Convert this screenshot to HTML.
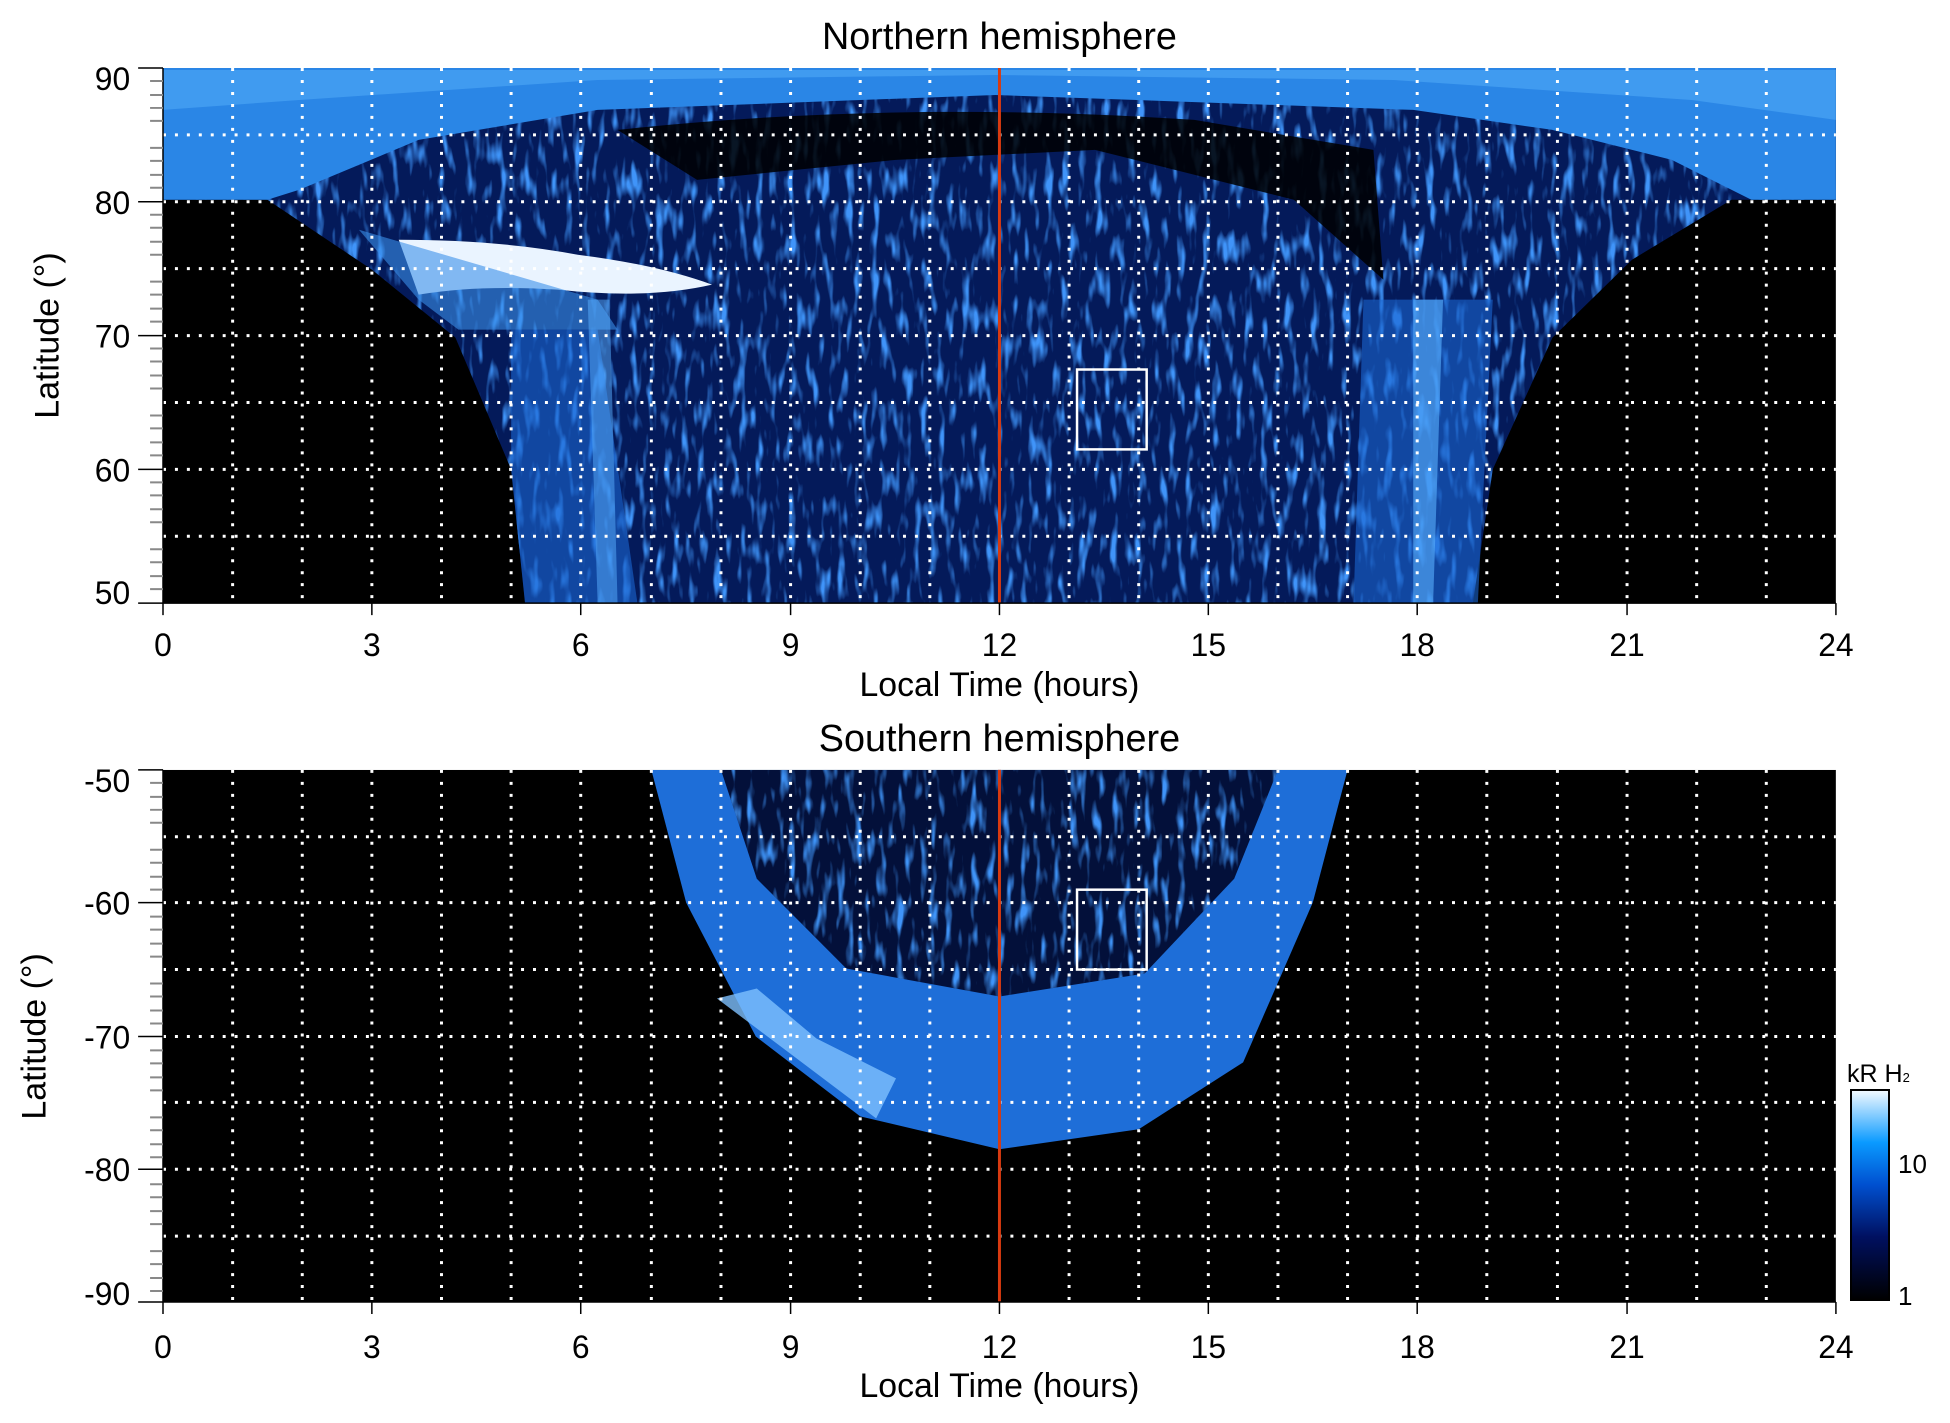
<!DOCTYPE html>
<html><head><style>body{margin:0;background:#fff}svg{display:block}text{font-family:"Liberation Sans",sans-serif;fill:#000}</style></head><body>
<svg width="1950" height="1423" viewBox="0 0 1950 1423" xmlns="http://www.w3.org/2000/svg">
<defs>
<linearGradient id="cb" x1="0" y1="1" x2="0" y2="0"><stop offset="0" stop-color="#000"/><stop offset="0.3" stop-color="#001060"/><stop offset="0.55" stop-color="#0050d0"/><stop offset="0.75" stop-color="#0a9aff"/><stop offset="1" stop-color="#f4faff"/></linearGradient>
<filter id="nz" x="0" y="0" width="1" height="1"><feTurbulence type="fractalNoise" baseFrequency="0.12 0.03" numOctaves="2" seed="3"/><feColorMatrix values="0 0 0 0 0.05  0 0 0 0 0.3  0 0 0 0 0.95  0 0 0 4 -2.1"/><feComposite in2="SourceGraphic" operator="in"/></filter>
<clipPath id="c1"><rect x="163" y="68" width="1682" height="536"/></clipPath>
<clipPath id="c2"><rect x="163" y="771" width="1682" height="533"/></clipPath>
</defs>
<g transform="translate(163,68) scale(0.9946,0.9984) translate(-163,-68)">
<g clip-path="url(#c1)">
<rect x="163" y="68" width="1682" height="536" fill="#000"/>
<path d="M163,68 H1845 V200 L1740,200 L1640,260 L1560,338 L1500,470 L1480,604 H527 L513,470 L457,338 L373,270 L268,200 H163 Z" fill="#041a5a"/>
<path d="M163,68 H1845 V200 L1740,200 L1640,260 L1560,338 L1500,470 L1480,604 H527 L513,470 L457,338 L373,270 L268,200 H163 Z" fill="#fff" filter="url(#nz)"/>
<path d="M163,68 H1845 V200 L1760,200 L1680,160 L1560,130 L1420,110 L1000,95 L600,110 L420,140 L300,190 L268,200 H163Z" fill="#2a86e6"/>
<path d="M163,70 H1845 V120 L1700,100 L1400,80 L1000,75 L600,80 L300,100 L163,110Z" fill="#4aa4f4" opacity="0.7"/>
<path d="M620,130 Q900,100 1200,120 L1380,150 L1390,280 L1300,200 L1100,150 L900,160 L700,180Z" fill="#000" opacity="0.85"/>
<path d="M400,240 Q500,240 580,255 Q660,265 715,285 Q650,300 560,290 Q480,285 420,295Z" fill="#eaf4ff"/>
<path d="M360,230 L420,300 L460,330 L620,330 L600,300Z" fill="#3a90ea" opacity="0.6"/>
<path d="M513,330 L600,330 L640,604 L527,604 L513,470Z" fill="#1a66d0" opacity="0.6"/>
<path d="M1370,300 L1500,300 L1485,604 L1360,604Z" fill="#1a66d0" opacity="0.6"/>
<path d="M1420,300 L1450,300 L1440,604 L1420,604Z" fill="#5ab0ff" opacity="0.6"/>
<path d="M590,300 L612,300 L620,604 L600,604Z" fill="#5ab0ff" opacity="0.5"/>
</g>
<g clip-path="url(#c2)">
<rect x="163" y="771" width="1682" height="533" fill="#000"/>
<path d="M654,771 L689,904 L759,1038 L864,1118 L1004,1151 L1144,1131 L1249,1064 L1319,904 L1354,771Z" fill="#1e6ed8"/>
<path d="M720,1000 L800,1060 L880,1120 L900,1080 L820,1040 L760,990Z" fill="#7ec0ff" opacity="0.8"/>
<path d="M724,771 L760,880 L850,970 L1004,998 L1150,975 L1240,880 L1284,771Z" fill="#03103a"/>
<path d="M724,771 L760,880 L850,970 L1004,998 L1150,975 L1240,880 L1284,771Z" fill="#fff" filter="url(#nz)"/>
</g>
<g stroke="#fff" stroke-width="3" stroke-dasharray="3,9">
<g id="gv">
<line x1="233" y1="68" x2="233" y2="604"/><line x1="303" y1="68" x2="303" y2="604"/><line x1="373" y1="68" x2="373" y2="604"/><line x1="443" y1="68" x2="443" y2="604"/><line x1="513" y1="68" x2="513" y2="604"/><line x1="583" y1="68" x2="583" y2="604"/><line x1="654" y1="68" x2="654" y2="604"/><line x1="724" y1="68" x2="724" y2="604"/><line x1="794" y1="68" x2="794" y2="604"/><line x1="864" y1="68" x2="864" y2="604"/><line x1="934" y1="68" x2="934" y2="604"/><line x1="1074" y1="68" x2="1074" y2="604"/><line x1="1144" y1="68" x2="1144" y2="604"/><line x1="1214" y1="68" x2="1214" y2="604"/><line x1="1284" y1="68" x2="1284" y2="604"/><line x1="1354" y1="68" x2="1354" y2="604"/><line x1="1424" y1="68" x2="1424" y2="604"/><line x1="1494" y1="68" x2="1494" y2="604"/><line x1="1565" y1="68" x2="1565" y2="604"/><line x1="1635" y1="68" x2="1635" y2="604"/><line x1="1705" y1="68" x2="1705" y2="604"/><line x1="1775" y1="68" x2="1775" y2="604"/>
</g>
<use href="#gv" transform="translate(0,703)"/>
<line x1="163" y1="135" x2="1845" y2="135"/><line x1="163" y1="202" x2="1845" y2="202"/><line x1="163" y1="269" x2="1845" y2="269"/><line x1="163" y1="336" x2="1845" y2="336"/><line x1="163" y1="403" x2="1845" y2="403"/><line x1="163" y1="470" x2="1845" y2="470"/><line x1="163" y1="537" x2="1845" y2="537"/>
<line x1="163" y1="838" x2="1845" y2="838"/><line x1="163" y1="904" x2="1845" y2="904"/><line x1="163" y1="971" x2="1845" y2="971"/><line x1="163" y1="1038" x2="1845" y2="1038"/><line x1="163" y1="1104" x2="1845" y2="1104"/><line x1="163" y1="1171" x2="1845" y2="1171"/><line x1="163" y1="1238" x2="1845" y2="1238"/>
</g>
<rect x="1082" y="370" width="70" height="80" fill="none" stroke="#fff" stroke-width="2.5"/>
<rect x="1082" y="891" width="70" height="80" fill="none" stroke="#fff" stroke-width="2.5"/>
<line x1="1004" y1="68" x2="1004" y2="604" stroke="#d83a10" stroke-width="3"/>
<line x1="1004" y1="771" x2="1004" y2="1304" stroke="#d83a10" stroke-width="3"/>
<g stroke="#000" stroke-width="1.5" fill="none">
<path d="M163,68 V604 H1845"/><path d="M163,771 V1304 H1845"/>
<path d="M138,68H163M138,202H163M138,336H163M138,470H163M138,604H163M138,771H163M138,904H163M138,1038H163M138,1171H163M138,1304H163"/>
<path d="M163,604v12M373,604v12M583,604v12M794,604v12M1004,604v12M1214,604v12M1424,604v12M1635,604v12M1845,604v12"/>
<path d="M163,1304v12M373,1304v12M583,1304v12M794,1304v12M1004,1304v12M1214,1304v12M1424,1304v12M1635,1304v12M1845,1304v12"/>
</g>
<g stroke="#888" stroke-width="2">
<path d="M150,81H163M150,95H163M150,108H163M150,121H163M150,148H163M150,161H163M150,175H163M150,188H163M150,215H163M150,228H163M150,242H163M150,255H163M150,282H163M150,295H163M150,309H163M150,322H163M150,349H163M150,362H163M150,376H163M150,389H163M150,416H163M150,429H163M150,443H163M150,456H163M150,483H163M150,496H163M150,510H163M150,523H163M150,550H163M150,563H163M150,577H163M150,590H163"/>
<path transform="translate(0,703)" d="M150,81H163M150,95H163M150,108H163M150,121H163M150,148H163M150,161H163M150,175H163M150,188H163M150,215H163M150,228H163M150,242H163M150,255H163M150,282H163M150,295H163M150,309H163M150,322H163M150,349H163M150,362H163M150,376H163M150,389H163M150,416H163M150,429H163M150,443H163M150,456H163M150,483H163M150,496H163M150,510H163M150,523H163M150,550H163M150,563H163M150,577H163M150,590H163"/>
</g>
<g font-size="32" text-anchor="middle">
<text x="1004" y="49" font-size="38">Northern hemisphere</text>
<text x="1004" y="752" font-size="38">Southern hemisphere</text>
<text x="1004" y="697" font-size="34">Local Time (hours)</text>
<text x="1004" y="1399" font-size="34">Local Time (hours)</text>
<g id="xl"><text x="163" y="657">0</text><text x="373" y="657">3</text><text x="583" y="657">6</text><text x="794" y="657">9</text><text x="1004" y="657">12</text><text x="1214" y="657">15</text><text x="1424" y="657">18</text><text x="1635" y="657">21</text><text x="1845" y="657">24</text></g>
<use href="#xl" transform="translate(0,703)"/>
<text transform="translate(58,336) rotate(-90)" font-size="34">Latitude (°)</text>
<text transform="translate(45,1038) rotate(-90)" font-size="34">Latitude (°)</text>
</g>
<g font-size="32" text-anchor="end">
<text x="130" y="90">90</text><text x="130" y="214">80</text><text x="130" y="348">70</text><text x="130" y="482">60</text><text x="130" y="605">50</text>
<text x="130" y="793">-50</text><text x="130" y="916">-60</text><text x="130" y="1050">-70</text><text x="130" y="1183">-80</text><text x="130" y="1307">-90</text>
</g>
</g>
<rect x="1851" y="1090" width="38" height="210" fill="url(#cb)" stroke="#000" stroke-width="2"/>
<text x="1847" y="1082" font-size="25">kR H<tspan font-size="13">2</tspan></text>
<text x="1898" y="1173" font-size="26">10</text>
<text x="1898" y="1305" font-size="26">1</text>
</svg>
</body></html>
